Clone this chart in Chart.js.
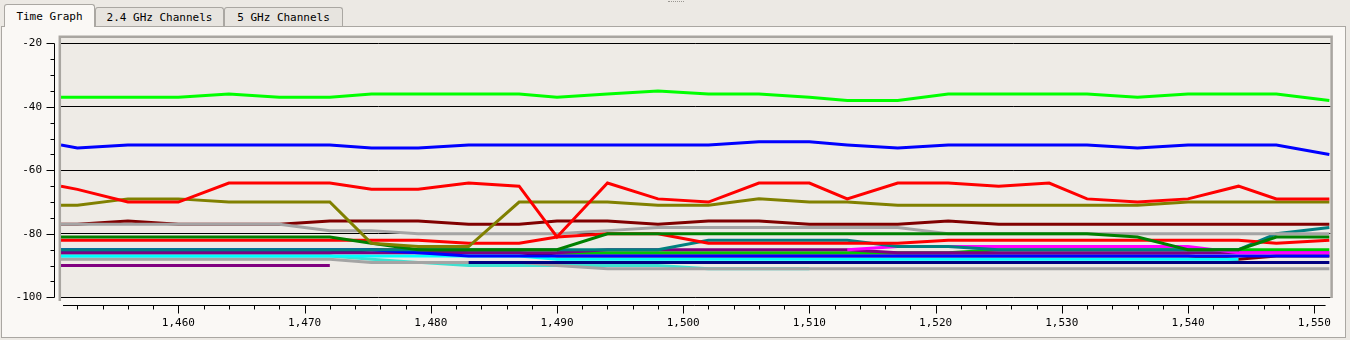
<!DOCTYPE html>
<html>
<head>
<meta charset="utf-8">
<script src="https://cdn.jsdelivr.net/npm/chart.js@4.4.1/dist/chart.umd.min.js"></script>
<style>
	html, body {
		margin: 0;
		padding: 0;
		width: 1350px;
		height: 340px;
		overflow: hidden;
		background: #ece9e4;
		font-family: "DejaVu Sans Mono", monospace;
		font-size: 11px;
		color: #000;
	}
	.grip {
		position: absolute;
		left: 668px;
		top: 1px;
		width: 16px;
		height: 0;
		border-top: 1px dotted #9a9792;
	}
	.panel {
		position: absolute;
		left: 1px;
		top: 26px;
		width: 1345px;
		height: 312px;
		box-sizing: border-box;
		border: 1px solid #aaa7a2;
		background: #faf8f5;
	}
	.tab {
		position: absolute;
		box-sizing: border-box;
		border: 1px solid #aaa7a2;
		border-bottom: none;
		border-radius: 3px 3px 0 0;
		background: #e7e4df;
		text-align: center;
		white-space: pre;
	}
	.tab.active {
		background: #faf8f5;
		z-index: 2;
	}
	#chart-wrap {
		position: absolute;
		left: 0;
		top: 0;
		width: 1350px;
		height: 340px;
	}
</style>
</head>
<body>
<div class="grip"></div>
<div class="panel"></div>
<div class="tab active" style="left:4px;top:4px;width:91px;height:23px;line-height:24px;">Time Graph</div>
<div class="tab" style="left:95px;top:7px;width:129px;height:19px;line-height:20px;">2.4 GHz Channels</div>
<div class="tab" style="left:224px;top:7px;width:119px;height:19px;line-height:20px;">5 GHz Channels</div>
<div id="chart-wrap"><canvas id="signal-chart" width="1350" height="340"></canvas></div>

<script>
// sample times (s) and RSSI per access point (dBm)
const times = [1450.7, 1452, 1456, 1460, 1464, 1468, 1472, 1475.3, 1479, 1483, 1487, 1490, 1494, 1498,
	1502, 1506, 1510, 1513, 1517, 1521, 1525, 1529, 1532, 1536, 1540, 1544, 1547, 1551.2];

const limeAp = [-37, -37, -37, -37, -36, -37, -37, -36, -36, -36, -36, -37, -36, -35,
	-36, -36, -37, -38, -38, -36, -36, -36, -36, -37, -36, -36, -36, -38];
const blueAp = [-52, -53, -52, -52, -52, -52, -52, -53, -53, -52, -52, -52, -52, -52,
	-52, -51, -51, -52, -53, -52, -52, -52, -52, -53, -52, -52, -52, -55];
const redAp = [-65, -66, -70, -70, -64, -64, -64, -66, -66, -64, -65, -81, -64, -69,
	-70, -64, -64, -69, -64, -64, -65, -64, -69, -70, -69, -65, -69, -69];
const oliveAp = [-71, -71, -69, -69, -70, -70, -70, -83, -84, -84, -70, -70, -70, -71,
	-71, -69, -70, -70, -71, -71, -71, -71, -71, -71, -70, -70, -70, -70];
const maroonAp = [-77, -77, -76, -77, -77, -77, -76, -76, -76, -77, -77, -76, -76, -77,
	-76, -76, -77, -77, -77, -76, -77, -77, -77, -77, -77, -77, -77, -77];
const grayAp = [-77, -77, -77, -77, -77, -77, -79, -79, -80, -80, -80, -80, -79, -78,
	-78, -78, -78, -78, -78, -80, -80, -80, -80, -80, -80, -80, -80, -80];
const greenAp = [-81, -81, -81, -81, -81, -81, -81, -83, -85, -85, -85, -85, -80, -80,
	-80, -80, -80, -80, -80, -80, -80, -80, -80, -81, -85, -85, -81, -81];
const red2Ap = [-82, -82, -82, -82, -82, -82, -82, -82, -82, -83, -83, -81, -80, -80,
	-83, -83, -83, -83, -83, -82, -82, -82, -82, -82, -82, -82, -83, -82];
const tealAp = [-85, -85, -85, -85, -85, -85, -85, -85, -85, -85, -85, -85, -85, -85,
	-82, -82, -82, -82, -84, -84, -85, -85, -85, -85, -85, -85, -80, -78];
const magentaAp = [null, null, null, null, null, null, null, null, null, null, null, null, null, null,
	null, null, null, -85, -84, -84, -84, -84, -84, -84, -84, -86, -86, -86];
const blue2Ap = [-85, -85, -85, -85, -85, -85, -85, -85, -86, -87, -87, -87, -87, -87,
	-87, -87, -87, -87, -87, -87, -87, -87, -87, -87, -87, -87, -87, -87];
const purpleAp = [-86, -86, -86, -86, -86, -86, -86, -86, -86, -86, -86, -86, -85, -85,
	-85, -85, -85, -85, -86, -86, -86, -86, -86, -86, -86, -86, -86, -86];
const lime2Ap = [null, null, null, null, null, null, null, null, null, null, null, -86, -86, -86,
	-86, -86, -86, -86, -86, -86, -85, -85, -85, -85, -85, -85, -85, -85];
const cyanAp = [-87, -87, -87, -87, -87, -87, -87, -87, -87, -87, -87, -88, -88, -88,
	-88, -88, -88, -88, -88, -88, -88, -88, -88, -88, -88, -88, null, null];
const maroon2Ap = [-86, -86, -86, -86, -86, -86, -86, -85, -85, -86, -86, -87, -87, -87,
	-87, -87, -87, -87, -87, -87, -87, -87, -87, -87, -87, -88, -87, -87];
const navyAp = [null, null, null, null, null, null, null, null, null, -89, -89, -89, -89, -89,
	-89, -89, -89, -89, -89, -89, -89, -89, -89, -89, -89, -89, -89, -89];
const gray2Ap = [-88, -88, -88, -88, -88, -88, -88, -89, -89, -89, -89, -90, -91, -91,
	-91, -91, -91, -91, -91, -91, -91, -91, -91, -91, -91, -91, -91, -91];
const turquoiseAp = [-87, -87, -87, -87, -87, -87, -87, -88, -89, -90, -90, -90, -90, -90,
	-91, -91, -91, null, null, null, null, null, null, null, null, null, null, null];
const purple2Ap = [-90, -90, -90, -90, -90, -90, -90, null, null, null, null, null, null, null,
	null, null, null, null, null, null, null, null, null, null, null, null, null, null];

const yTicks = [-100, -80, -60, -40, -20];
const xTicks = [1460, 1470, 1480, 1490, 1500, 1510, 1520, 1530, 1540, 1550];

const monoFont = { family: "'DejaVu Sans Mono', monospace", size: 11 };

function series(values, color) {
	return {
		data: times.map((t, i) => ({ x: t, y: values[i] })),
		borderColor: color,
		backgroundColor: color,
		borderWidth: 3,
		pointRadius: 0,
		fill: false,
		tension: 0,
		spanGaps: false,
	};
}

// plot background, frame and the detached tick rulers
const framePlugin = {
	id: "frame",
	beforeDraw(chart) {
		const { ctx, chartArea } = chart;
		ctx.save();
		ctx.fillStyle = "#eeebe6";
		ctx.fillRect(chartArea.left, chartArea.top, chartArea.right - chartArea.left, chartArea.bottom - chartArea.top);
		ctx.restore();
	},
	afterDraw(chart) {
		const { ctx, chartArea, scales } = chart;
		const xs = scales.x;
		const ys = scales.y;
		ctx.save();

		ctx.strokeStyle = "#a9a6a1";
		ctx.lineWidth = 2.5;
		ctx.beginPath();
		ctx.moveTo(chartArea.left - 1.2, chartArea.bottom + 3);
		ctx.lineTo(chartArea.left - 1.2, chartArea.top - 1.2);
		ctx.lineTo(chartArea.right + 1, chartArea.top - 1.2);
		ctx.lineTo(chartArea.right + 1, chartArea.bottom);
		ctx.stroke();

		ctx.strokeStyle = "#000";
		ctx.lineWidth = 1;

		// y ruler
		const yTop = ys.getPixelForValue(yTicks[yTicks.length - 1]);
		const yBot = ys.getPixelForValue(yTicks[0]);
		const axisX = chartArea.left - 6.5;
		ctx.beginPath();
		ctx.moveTo(axisX, Math.round(yTop) + 0.5);
		ctx.lineTo(axisX, Math.round(yBot) + 0.5);
		for (let v = yTicks[0]; v <= yTicks[yTicks.length - 1]; v += 5) {
			const py = Math.round(ys.getPixelForValue(v)) + 0.5;
			const len = v % 20 === 0 ? 8 : 4;
			ctx.moveTo(axisX, py);
			ctx.lineTo(axisX - len, py);
		}
		ctx.stroke();

		// x ruler
		const axisY = chartArea.bottom + 7.5;
		ctx.beginPath();
		ctx.moveTo(chartArea.left + 2, axisY);
		ctx.lineTo(xs.getPixelForValue(1550.9), axisY);
		for (let v = 1452; v <= 1550; v += 2) {
			const px = Math.round(xs.getPixelForValue(v)) + 0.5;
			const len = v % 10 === 0 ? 8 : 4;
			ctx.moveTo(px, axisY);
			ctx.lineTo(px, axisY + len);
		}
		ctx.stroke();
		ctx.restore();
	},
};

new Chart(document.getElementById("signal-chart"), {
	type: "line",
	data: {
		datasets: [
			series(limeAp, "#00ff00"),
			series(blueAp, "#0000ff"),
			series(redAp, "#ff0000"),
			series(oliveAp, "#808000"),
			series(greenAp, "#008000"),
			series(red2Ap, "#ff0000"),
			series(grayAp, "#a4a4a4"),
			series(maroonAp, "#800000"),
			series(tealAp, "#008080"),
			series(magentaAp, "#ff00ff"),
			series(blue2Ap, "#0000ff"),
			series(purpleAp, "#800080"),
			series(lime2Ap, "#00c800"),
			series(cyanAp, "#00ffff"),
			series(maroon2Ap, "#800000"),
			series(navyAp, "#000080"),
			series(gray2Ap, "#a4a4a4"),
			series(turquoiseAp, "#40e0d0"),
			series(purple2Ap, "#800080"),
		],
	},
	options: {
		responsive: false,
		animation: false,
		devicePixelRatio: 1,
		layout: {
			padding: { left: 0, top: 38, right: 18, bottom: 0 },
		},
		scales: {
			x: {
				type: "linear",
				min: 1450.7,
				max: 1551.3,
				afterBuildTicks: (scale) => {
					scale.ticks = xTicks.map((v) => ({ value: v }));
				},
				afterFit: (scale) => {
					scale.height = 42;
				},
				grid: { display: false, drawTicks: false },
				border: { display: false },
				ticks: {
					font: monoFont,
					color: "#000",
					padding: 19,
					maxRotation: 0,
					callback: (v) => Number(v).toLocaleString("en-US"),
				},
			},
			y: {
				type: "linear",
				min: -100.22,
				max: -18.33,
				afterBuildTicks: (scale) => {
					scale.ticks = yTicks.map((v) => ({ value: v }));
				},
				afterFit: (scale) => {
					scale.width = 61;
				},
				grid: { color: "#000", lineWidth: 1, drawTicks: false },
				border: { display: false },
				ticks: {
					font: monoFont,
					color: "#000",
					padding: 19,
					callback: (v) => String(v),
				},
			},
		},
		plugins: {
			legend: { display: false },
			title: { display: false },
			tooltip: { enabled: false },
		},
	},
	plugins: [framePlugin],
});
</script>
</body>
</html>
